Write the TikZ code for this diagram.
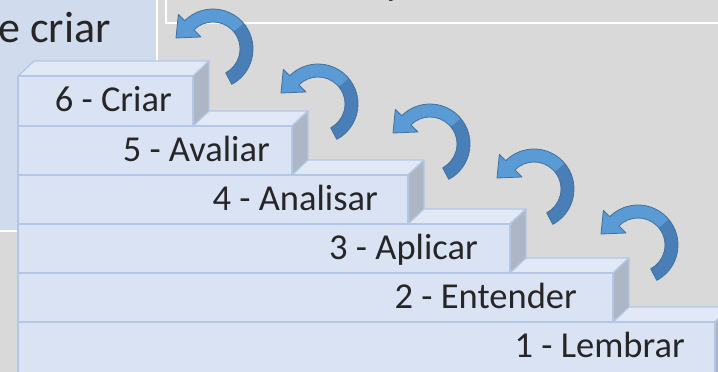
\documentclass[tikz,border=0pt]{standalone}
\usepackage{fontspec}
\setmainfont{Carlito}
\definecolor{bg}{HTML}{D9D9D9}
\definecolor{panel}{HTML}{D0DBEE}
\definecolor{frontc}{HTML}{DAE3F3}
\definecolor{topc}{HTML}{E2E9F6}
\definecolor{sidec}{HTML}{ADB6C4}
\definecolor{edgec}{HTML}{B4C7E7}
\definecolor{arrL}{HTML}{5B9BD5}
\definecolor{arrD}{HTML}{4A7EB6}
\definecolor{arrO}{HTML}{41719C}
\definecolor{txt}{HTML}{262626}
\tikzset{
  facebox/.style={draw=edgec, line width=1.3pt, line join=round},
  steplabel/.style={anchor=base east, inner sep=0pt, text=txt, font=\fontsize{36.5}{36.5}\selectfont},
  whiteline/.style={draw=white, line width=1.5pt}
}
% #1 top, #2 bottom, #3 right edge
\newcommand\stairstep[3]{%
  \filldraw[facebox, fill=topc] (18,#1) -- (34,#1-15) -- (#3+16,#1-15) -- (#3,#1) -- cycle;
  \filldraw[facebox, fill=sidec] (#3,#1) -- (#3+16,#1-15) -- (#3+16,#2-15) -- (#3,#2) -- cycle;
  \filldraw[facebox, fill=frontc] (18,#1) rectangle (#3,#2);
}
% #1,#2 centre
\newcommand\bentarrow[2]{%
  \begin{scope}[shift={(#1,#2)}, yscale=-1]
    \fill[arrL] (40:40) arc[start angle=40, end angle=135, radius=40] -- (135:49) -- (-37,11) -- (135:17) -- (135:27) arc[start angle=135, end angle=40, radius=27] -- cycle;
    \fill[arrD] (-62:40) arc[start angle=-62, end angle=40, radius=40] -- (40:27) arc[start angle=40, end angle=-62, radius=27] -- cycle;
    \draw[arrO, line width=0.8pt, line join=round] (-62:40) arc[start angle=-62, end angle=135, radius=40] -- (135:49) -- (-37,11) -- (135:17) -- (135:27) arc[start angle=135, end angle=-62, radius=27] -- cycle;
  \end{scope}
}
\begin{document}
\begin{tikzpicture}[x=1pt, y=-1pt]
\useasboundingbox (0,0) rectangle (718,372);
\begin{scope}
\clip (0,0) rectangle (718,372);
\fill[bg] (0,0) rectangle (718,372);
% left panel
\fill[panel] (0,0) rectangle (157,231);
\draw[whiteline] (157,-2) -- (157,231) -- (-2,231);
% top box
\draw[whiteline] (166,-2) -- (166,23) -- (720,23);
\node[anchor=base west, inner sep=0pt, text=black, font=\bfseries\fontsize{30}{30}\selectfont] (titlepart) at (386,-4) {y};
\node[anchor=base east, inner sep=0pt, text=txt, font=\fontsize{44}{44}\selectfont] (paneltitle) at (111,42) {e criar};
% stairs
\stairstep{322}{390}{715}
\stairstep{273}{322}{613}
\stairstep{224}{273}{510}
\stairstep{175}{224}{408}
\stairstep{126}{175}{292}
\stairstep{76}{126}{193}
\node[steplabel] (l1) at (685,357) {1 - Lembrar};
\node[steplabel] (l2) at (577,308) {2 - Entender};
\node[steplabel] (l3) at (478,259) {3 - Aplicar};
\node[steplabel] (l4) at (378,210) {4 - Analisar};
\node[steplabel] (l5) at (270,161) {5 - Avaliar};
\node[steplabel] (l6) at (172,111) {6 - Criar};
% arrows
\bentarrow{213}{49}
\bentarrow{318}{104}
\bentarrow{430}{144}
\bentarrow{534}{189}
\bentarrow{638}{245}
\end{scope}
\end{tikzpicture}
\end{document}
